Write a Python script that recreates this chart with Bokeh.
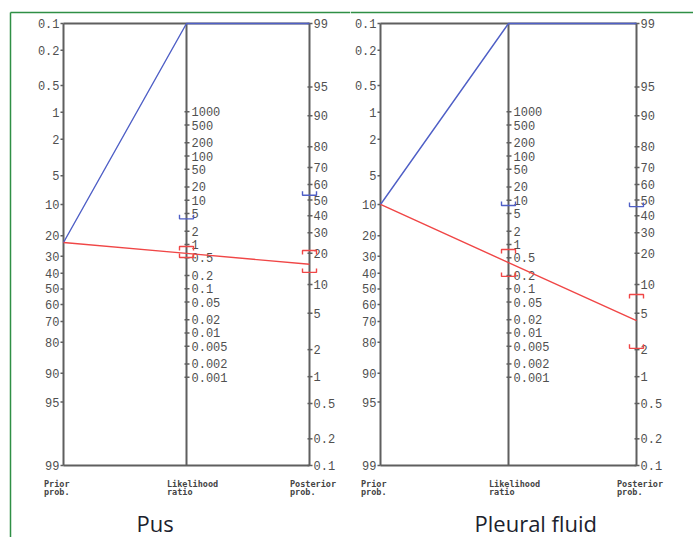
import numpy as np
from bokeh.plotting import figure
from bokeh.layouts import row
from bokeh.models import Range1d
from bokeh.core.properties import value
from bokeh.embed import file_html
from bokeh.resources import INLINE

# ---------------- data ----------------
panel_titles = ["Pus", "Pleural fluid"]
prior_pct = [23, 10]                 # pre-test probability (%)
lr_pos = [np.inf, np.inf]            # positive likelihood ratio (off scale)
lr_pos_low = [3.8, 7.6]              # lower CI bound of LR+
lr_neg = [0.63, 0.39]                # negative likelihood ratio
lr_neg_low = [0.51, 0.19]            # lower CI bound of LR-
lr_neg_high = [0.90, 0.77]           # upper CI bound of LR-

prior_ticks = [0.1, 0.2, 0.5, 1, 2, 5, 10, 20, 30, 40, 50, 60, 70, 80, 90, 95, 99]
lr_ticks = [1000, 500, 200, 100, 50, 20, 10, 5, 2, 1, 0.5, 0.2, 0.1,
            0.05, 0.02, 0.01, 0.005, 0.002, 0.001]
post_ticks = [99, 95, 90, 80, 70, 60, 50, 40, 30, 20, 10, 5, 2, 1, 0.5, 0.2, 0.1]
axis_names = ["Prior\nprob.", "Likelihood\nratio", "Posterior\nprob."]

# ---------------- layout / style ----------------
TOP_PX, BOT_PX = 23, 465
FIG_TOP_PX, FIG_BOT_PX = 0, 537
PANEL_PX = [(63, 309, 0, 350), (380, 636, 350, 693)]
TITLE_PX = [(136, 507), (474, 507)]
AXIS_COLOR = "#5f5f5f"
LABEL_COLOR = "#505050"
BLUE = "#4f5fc6"
RED = "#f04646"
GREEN = "#2f8f45"
TICK_FONT = value("Liberation Mono")
NAME_FONT = value("DejaVu Sans Mono")
TITLE_FONT = value("Open Sans")


def logit(p):
    return np.log(p / (1.0 - p))


Y_TOP = -logit(0.001)          # prior 0.1 % / posterior 99 %
Y_BOT = -logit(0.99)           # prior 99 % / posterior 0.1 %
C = Y_TOP - logit(0.99)
SY = (BOT_PX - TOP_PX) / (Y_TOP - Y_BOT)


def y_prior(pct):
    return -logit(pct / 100.0)


def y_post(pct):
    return logit(pct / 100.0) + C


def y_lr(L):
    return (np.log(L) + C) / 2.0


def y_post_from(prior, L):
    return logit(prior / 100.0) + np.log(L) + C


def fmt(v):
    return f"{v:g}"


def build(i):
    lpx, rpx, f0, f1 = PANEL_PX[i]
    sx = rpx - lpx
    X = lambda px: (px - lpx) / sx
    Y = lambda py: Y_TOP - (py - TOP_PX) / SY
    dx, dy = 1.0 / sx, 1.0 / SY

    p = figure(width=f1 - f0, height=FIG_BOT_PX - FIG_TOP_PX,
               x_range=Range1d(X(f0), X(f1)),
               y_range=Range1d(Y(FIG_BOT_PX), Y(FIG_TOP_PX)),
               output_backend="svg", toolbar_location=None,
               x_axis_location=None, y_axis_location=None,
               min_border=0, outline_line_color=None,
               background_fill_color="white", border_fill_color="white")
    p.grid.visible = False

    # green frame of the figure panel
    p.segment(x0=[X(max(f0, 10))], y0=[Y(12)], x1=[X(f1)], y1=[Y(12)],
              line_color=GREEN, line_width=1.5)
    if i == 0:
        p.segment(x0=[X(10)], y0=[Y(12)], x1=[X(10)], y1=[Y(FIG_BOT_PX)],
                  line_color=GREEN, line_width=1.5)

    # nomogram axes and box
    ax_x = [0.0, 0.5, 1.0]
    p.segment(x0=ax_x, y0=[Y_BOT] * 3, x1=ax_x, y1=[Y_TOP] * 3,
              line_color=AXIS_COLOR, line_width=2)
    p.segment(x0=[0, 0], y0=[Y_TOP, Y_BOT], x1=[1, 1], y1=[Y_TOP, Y_BOT],
              line_color=AXIS_COLOR, line_width=2)

    # prior axis
    yl = [y_prior(v) for v in prior_ticks]
    p.segment(x0=[-3 * dx] * len(yl), y0=yl, x1=[0] * len(yl), y1=yl,
              line_color=AXIS_COLOR, line_width=1.5)
    p.text(x=[-4 * dx] * len(yl), y=yl, text=[fmt(v) for v in prior_ticks],
           text_align="right", text_baseline="middle", text_font=TICK_FONT,
           text_font_size="12px", text_color=LABEL_COLOR)

    # likelihood ratio axis
    ym = [y_lr(v) for v in lr_ticks]
    p.segment(x0=[0.5 - 2 * dx] * len(ym), y0=ym, x1=[0.5 + 3 * dx] * len(ym), y1=ym,
              line_color=AXIS_COLOR, line_width=1.5)
    p.text(x=[0.5 + 5 * dx] * len(ym), y=ym, text=[fmt(v) for v in lr_ticks],
           text_align="left", text_baseline="middle", text_font=TICK_FONT,
           text_font_size="12px", text_color=LABEL_COLOR)

    # posterior axis
    yr = [y_post(v) for v in post_ticks]
    p.segment(x0=[1 - 2 * dx] * len(yr), y0=yr, x1=[1 + 3 * dx] * len(yr), y1=yr,
              line_color=AXIS_COLOR, line_width=1.5)
    p.text(x=[1 + 4 * dx] * len(yr), y=yr, text=[fmt(v) for v in post_ticks],
           text_align="left", text_baseline="middle", text_font=TICK_FONT,
           text_font_size="12px", text_color=LABEL_COLOR)

    # axis names
    p.text(x=[a - 19.5 * dx for a in ax_x], y=[Y(478)] * 3, text=axis_names,
           text_align="left", text_baseline="top", text_font=NAME_FONT,
           text_font_size="8.5px", text_font_style="bold",
           text_line_height=0.85, text_color="#444444")

    pr = prior_pct[i]
    yL = y_prior(pr)

    # positive test line (clipped at the top of the scales)
    p.line(x=ax_x,
           y=[yL, min(y_lr(lr_pos[i]), Y_TOP), min(y_post_from(pr, lr_pos[i]), Y_TOP)],
           line_color=BLUE, line_width=1.4)
    # negative test line
    p.line(x=ax_x,
           y=[yL, min(y_lr(lr_neg[i]), Y_TOP), min(y_post_from(pr, lr_neg[i]), Y_TOP)],
           line_color=RED, line_width=1.4)

    # confidence interval brackets
    h, leg = 7 * dx, 4 * dy

    def bracket(x, y, d):
        return [x - h, x - h, x + h, x + h], [y + d * leg, y, y, y + d * leg]

    for L, d, col in [(lr_pos_low[i], 1, BLUE), (lr_neg_low[i], 1, RED),
                      (lr_neg_high[i], -1, RED)]:
        xs1, ys1 = bracket(0.5, y_lr(L), d)
        xs2, ys2 = bracket(1.0, y_post_from(pr, L), d)
        p.multi_line(xs=[xs1, xs2], ys=[ys1, ys2], line_color=col, line_width=1.4)

    # panel title
    tx, ty = TITLE_PX[i]
    p.text(x=[X(tx)], y=[Y(ty)], text=[panel_titles[i]], text_align="left",
           text_baseline="top", text_font=TITLE_FONT,
           text_font_size="22px", text_color="#1c1f2e")
    return p


layout = row(build(0), build(1))
open("out.html", "w").write(file_html(layout, INLINE))
